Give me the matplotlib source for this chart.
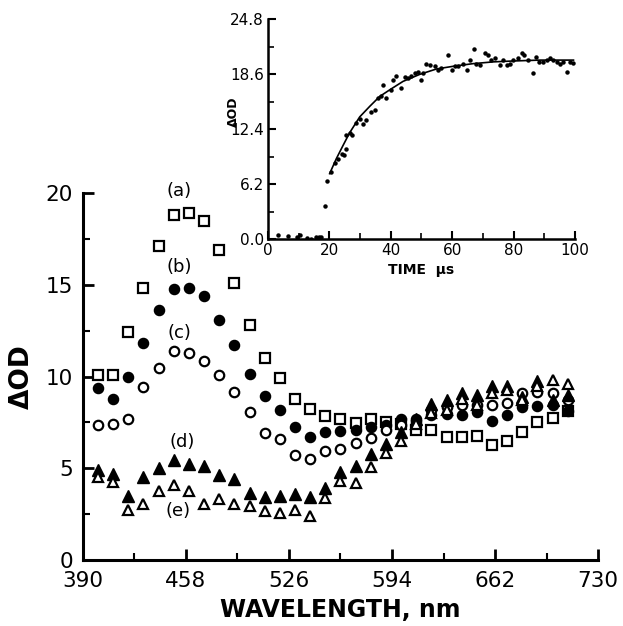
import matplotlib
matplotlib.use('Agg')
import matplotlib.pyplot as plt

# ---- main panel data: transient absorption spectra ----
wavelength = [400, 410, 420, 430, 440, 450, 460, 470, 480, 490, 500, 510, 520, 530, 540, 550,
              560, 570, 580, 590, 600, 610, 620, 630, 640, 650, 660, 670, 680, 690, 700, 710]

series_a = [10.1, 10.1, 12.4, 14.8, 17.1, 18.8, 18.9, 18.5, 16.9, 15.1, 12.8, 11.0, 9.9, 8.8, 8.25, 7.85,
            7.7, 7.45, 7.7, 7.5, 7.4, 7.1, 7.1, 6.7, 6.7, 6.75, 6.25, 6.5, 7.0, 7.5, 7.75, 8.1]
series_b = [9.35, 8.75, 9.95, 11.8, 13.6, 14.75, 14.85, 14.4, 13.1, 11.7, 10.15, 8.95, 8.15, 7.25, 6.7, 7.0,
            7.05, 7.1, 7.25, 7.35, 7.7, 7.7, 7.9, 7.95, 7.9, 8.05, 7.6, 7.9, 8.35, 8.4, 8.45, 8.1]
series_c = [7.35, 7.4, 7.7, 9.45, 10.45, 11.4, 11.3, 10.85, 10.1, 9.15, 8.05, 6.9, 6.6, 5.75, 5.5, 5.95,
            6.05, 6.4, 6.65, 7.1, 7.35, 7.6, 8.15, 8.35, 8.45, 8.45, 8.45, 8.55, 9.1, 9.15, 9.1, 8.7]
series_d = [4.9, 4.7, 3.5, 4.5, 5.0, 5.45, 5.25, 5.1, 4.65, 4.4, 3.65, 3.45, 3.5, 3.6, 3.45, 3.9,
            4.8, 5.15, 5.8, 6.3, 7.0, 7.7, 8.5, 8.7, 9.1, 9.0, 9.5, 9.5, 8.9, 9.75, 8.7, 9.0]
series_e = [4.5, 4.25, 2.7, 3.05, 3.75, 4.1, 3.75, 3.05, 3.3, 3.05, 2.95, 2.65, 2.55, 2.7, 2.4, 3.4,
            4.3, 4.2, 5.05, 5.85, 6.5, 7.4, 8.0, 8.2, 8.8, 8.45, 9.1, 9.25, 8.7, 9.5, 9.8, 9.6]

series_labels = ['(a)', '(b)', '(c)', '(d)', '(e)']
label_x = [453.6, 453.6, 453.6, 455.4, 452.8]
label_y = [20.1, 15.95, 12.35, 6.45, 2.65]

x_major = [390, 458, 526, 594, 662, 730]
x_minor = [424, 492, 560, 628, 696]
y_major = [0, 5, 10, 15, 20]
y_minor = [2.5, 7.5, 12.5, 17.5]

# ---- inset data: kinetic trace ----
time_us = [3.3, 6.5, 9.5, 10.3, 12.7, 14.1, 15.8, 16.6, 17.4, 18.5, 19.2, 20.4, 21.7, 22.8, 24.1, 24.7,
           25.3, 25.5, 26.6, 27.5, 28.8, 29.9, 31.0, 32.1, 33.7, 34.8, 35.9, 36.7, 37.5, 38.6, 40.2,
           40.8, 41.8, 43.5, 44.6, 45.7, 46.7, 47.8, 48.9, 49.8, 50.5, 51.6, 52.7, 54.3, 55.4, 56.5,
           58.7, 59.8, 60.9, 62.0, 63.6, 64.7, 65.8, 67.1, 67.9, 69.0, 70.7, 71.7, 72.8, 73.9, 75.5,
           76.6, 77.7, 78.8, 79.9, 81.5, 82.6, 83.4, 84.8, 86.4, 87.3, 88.4, 89.5, 90.8, 91.8, 92.9,
           94.0, 95.1, 96.2, 97.3, 98.4, 99.5]
dod_points = [0.49, 0.41, 0.3, 0.49, 0.15, 0.08, 0.23, 0.3, 0.23, 3.76, 6.6, 7.6, 8.65, 9.1, 9.6, 9.5,
              10.2, 11.8, 12.0, 11.8, 13.1, 13.6, 13.0, 13.5, 14.4, 14.6, 15.9, 16.1, 17.4, 15.9, 16.8,
              18.0, 18.4, 17.0, 18.3, 18.2, 18.4, 18.7, 18.9, 18.0, 18.8, 19.8, 19.7, 19.5, 19.1, 19.3,
              20.8, 19.1, 19.5, 19.5, 19.8, 19.1, 20.2, 21.5, 19.8, 19.7, 21.0, 20.8, 20.2, 20.4, 19.7,
              20.2, 19.7, 19.8, 20.2, 20.4, 21.0, 20.8, 20.2, 18.8, 20.6, 20.0, 20.0, 20.2, 20.4, 20.2,
              20.0, 19.8, 20.0, 18.9, 20.0, 19.9]
fit_time = [20.1, 22.3, 24.5, 26.6, 29.9, 33.2, 36.4, 39.9, 44.0, 49.5, 54.9, 60.3, 66.8, 73.4, 79.9, 88.6, 99.5]
fit_dod = [7.4, 9.1, 10.6, 12.0, 13.8, 15.0, 16.1, 16.9, 17.8, 18.6, 19.2, 19.5, 19.8, 20.0, 20.1, 20.2, 20.2]

inset_x_major = [0, 20, 40, 60, 80, 100]
inset_x_minor = [10, 30, 50, 70, 90]
inset_y_major = [0.0, 6.2, 12.4, 18.6, 24.8]
inset_y_minor = [3.1, 9.3, 15.5, 21.7]

plt.rcParams['font.family'] = ['DejaVu Sans']

fig = plt.figure(figsize=(6.23, 6.26), dpi=100)
ax = fig.add_axes([0.133, 0.1054, 0.827, 0.5863])

common = dict(linestyle='none', mec='black', clip_on=False)
ax.plot(wavelength, series_a, marker='s', ms=7.2, mfc='white', mew=1.6, **common)
ax.plot(wavelength, series_b, marker='o', ms=7.3, mfc='black', mew=1.0, **common)
ax.plot(wavelength, series_c, marker='o', ms=6.8, mfc='white', mew=1.6, **common)
ax.plot(wavelength, series_d, marker='^', ms=8.3, mfc='black', mew=1.0, **common)
ax.plot(wavelength, series_e, marker='^', ms=7.8, mfc='white', mew=1.6, **common)

for t, lx, ly in zip(series_labels, label_x, label_y):
    ax.text(lx, ly, t, fontsize=13, ha='center', va='center')

ax.set_xlim(390, 730)
ax.set_ylim(0, 20)
for s in ['top', 'right']:
    ax.spines[s].set_visible(False)
for s in ['left', 'bottom']:
    ax.spines[s].set_linewidth(2.2)
ax.set_xticks(x_major)
ax.set_xticks(x_minor, minor=True)
ax.set_yticks(y_major)
ax.set_yticks(y_minor, minor=True)
ax.tick_params(which='major', direction='in', length=8, width=2, labelsize=15.5)
ax.tick_params(axis='x', which='major', pad=8)
ax.tick_params(axis='y', which='major', pad=7)
ax.tick_params(which='minor', direction='in', length=5, width=1.5)
ax.set_xlabel('WAVELENGTH, nm', fontsize=17, fontweight='bold', labelpad=5)
ax.set_ylabel('ΔOD', fontsize=19, fontweight='bold', labelpad=8)

# ---- inset ----
ins = fig.add_axes([0.430, 0.6177, 0.493, 0.3515])
ins.set_facecolor('none')
ins.plot(time_us, dod_points, linestyle='none', marker='o', ms=2.2, color='black')
ins.plot(fit_time, fit_dod, '-', color='black', lw=1.2)
ins.set_xlim(0, 100)
ins.set_ylim(0, 24.8)
for s in ['top', 'right']:
    ins.spines[s].set_visible(False)
for s in ['left', 'bottom']:
    ins.spines[s].set_linewidth(1.8)
ins.set_xticks(inset_x_major)
ins.set_xticks(inset_x_minor, minor=True)
ins.set_yticks(inset_y_major)
ins.set_yticks(inset_y_minor, minor=True)
ins.set_yticklabels(['%.1f' % v for v in inset_y_major])
ins.tick_params(which='major', direction='in', length=6, width=1.5, labelsize=11, pad=3)
ins.tick_params(which='minor', direction='in', length=4, width=1.2)
ins.set_xlabel('TIME  μs', fontsize=10, fontweight='bold', labelpad=3)
ins.set_ylabel('ΔOD', fontsize=9, fontweight='bold')
ins.yaxis.set_label_coords(-0.09, 0.58)

fig.savefig('out.png', dpi=100)
